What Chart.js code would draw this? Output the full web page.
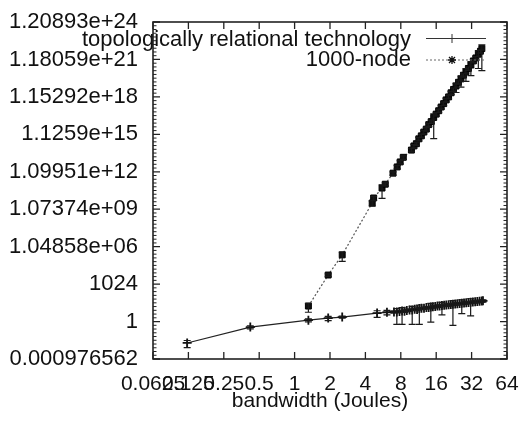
<!DOCTYPE html>
<html>
<head>
<meta charset="utf-8">
<script src="https://cdn.jsdelivr.net/npm/chart.js@4.4.0/dist/chart.umd.min.js"></script>
<style>
  html, body { margin: 0; padding: 0; background: #fff; }
</style>
</head>
<body>
<canvas id="myChart" width="529" height="427"></canvas>
<script>
// axis ticks (log2 axes, gnuplot style labels)
const xTicks = [0.0625, 0.125, 0.25, 0.5, 1, 2, 4, 8, 16, 32, 64];
const xTickLabels = ['0.0625', '0.125', '0.25', '0.5', '1', '2', '4', '8', '16', '32', '64'];
const yTicks = [2 ** -10, 2 ** 0, 2 ** 10, 2 ** 20, 2 ** 30, 2 ** 40, 2 ** 50, 2 ** 60, 2 ** 70, 2 ** 80];
const yTickLabels = ['0.000976562', '1', '1024', '1.04858e+06', '1.07374e+09', '1.09951e+12',
  '1.1259e+15', '1.15292e+18', '1.18059e+21', '1.20893e+24'];

const seriesNames = ['topologically relational technology', '1000-node'];

// topologically relational technology
const trtX = [0.122, 0.42, 1.31, 1.93, 2.54, 5.03, 6.1, 7.0, 7.4, 7.8, 8.2, 8.6, 9.0, 9.5, 10.0, 10.5,
  11.0, 11.5, 12.0, 12.6, 13.2, 13.8, 14.4, 15.0, 15.7, 16.4, 17.1, 17.9, 18.7, 19.5, 20.4, 21.3,
  22.2, 23.2, 24.2, 25.3, 26.4, 27.6, 28.8, 30.1, 31.4, 32.8, 34.3, 35.8, 37.4, 39.0, 40.0];
const trtY = [0.019, 0.36, 1.3, 1.9, 2.3, 4.8, 5.6, 6.0, 5.8, 6.5, 7.0, 6.8, 7.9, 8.4, 8.6, 9.8,
  9.5, 11.0, 11.5, 11.8, 13.2, 13.5, 14.8, 15.3, 15.9, 17.5, 17.8, 19.4, 20.0, 21.3, 22.1, 23.7,
  24.5, 26.0, 26.9, 28.6, 29.4, 31.2, 32.4, 34.2, 35.4, 37.5, 38.9, 41.0, 42.5, 44.9, 46.0];
const trtErr = [0.011, 0.1, 0.35, 0.7, 0.4, 2.6, 2.2, 1.2, 5.2, 1.5, 6.4, 1.4, 2.0, 1.8, 8.0, 2.1,
  2.0, 10.4, 2.5, 2.4, 3.0, 2.8, 13.9, 3.2, 3.5, 3.6, 3.9, 16.0, 4.2, 4.5, 4.6, 5.0,
  24.0, 5.4, 5.8, 6.0, 25.0, 6.5, 6.8, 7.2, 32.5, 7.9, 8.2, 8.6, 9.0, 9.4, 9.7];

// 1000-node
const nodeX = [1.31, 1.93, 2.54, 4.57, 4.7, 5.54, 5.9, 6.87, 7.45, 7.9, 8.4, 9.85, 10.34, 10.85,
  11.39, 11.96, 12.55, 13.18, 13.83, 14.52, 15.24, 16.0, 16.8, 17.63, 18.51, 19.43, 20.39, 21.41,
  22.47, 23.59, 24.76, 25.99, 27.28, 28.64, 30.06, 31.56, 33.13, 34.78, 36.5, 38.05, 39.12];
const nodeY = [17.6, 5500, 2.3e5, 3.4e9, 8.6e9, 5.4e10, 1.1e11, 8.5e11, 2.7e12, 6.8e12, 1.6e13,
  6.1e13, 1.31e14, 1.99e14, 4.9e14, 8.5e14, 1.71e15, 2.97e15, 6.8e15, 1.19e16, 2.55e16, 4.75e16,
  8.9e16, 1.77e17, 3.31e17, 6.6e17, 1.15e18, 2.47e18, 4.6e18, 8.6e18, 1.72e19, 3.2e19, 6.4e19,
  1.2e20, 2.24e20, 4.2e20, 8.95e20, 1.56e21, 3.12e21, 5.4e21, 8.8e21];
const nodeErr = [12, 1200, 1.6e5, 1.5e9, 3e9, 4.6e10, 3e10, 2.5e11, 8e11, 2e12, 5e12,
  1.8e13, 4e13, 6e13, 1.5e14, 2.5e14, 5e14, 9e14, 2e15, 3.5e15, 2.5e16, 1.4e16,
  2.7e16, 5.3e16, 1e17, 2e17, 3.5e17, 7.4e17, 1.4e18, 6e18, 5e18, 2.5e19, 1.9e19,
  1.0e20, 6.7e19, 3.6e20, 2.7e20, 4.7e20, 2.9e21, 1.6e21, 8.65e21];

const FONT = "'Liberation Sans', Arial, sans-serif";
const INK = '#111';

const toPoints = (xs, ys) => xs.map((x, i) => ({ x: x, y: ys[i] }));

const errorBars = {
  id: 'errorBars',
  afterDatasetsDraw(chart) {
    const { ctx, chartArea: a, scales: { x, y } } = chart;
    ctx.save();
    ctx.beginPath();
    ctx.rect(a.left, a.top, a.right - a.left, a.bottom - a.top);
    ctx.clip();
    ctx.strokeStyle = '#1a1a1a';
    ctx.lineWidth = 1.2;
    chart.data.datasets.forEach(ds => {
      ds.data.forEach((p, i) => {
        const e = ds.errors[i];
        const px = x.getPixelForValue(p.x);
        const lo = y.getPixelForValue(Math.max(p.y - e, y.min));
        const hi = y.getPixelForValue(p.y + e);
        ctx.beginPath();
        ctx.moveTo(px, lo); ctx.lineTo(px, hi);
        ctx.moveTo(px - 3.5, lo); ctx.lineTo(px + 3.5, lo);
        ctx.moveTo(px - 3.5, hi); ctx.lineTo(px + 3.5, hi);
        ctx.stroke();
      });
    });
    ctx.restore();
  }
};

// gnuplot-like frame with inward ticks on all four sides, plus legend and x label
const frame = {
  id: 'frame',
  afterDraw(chart) {
    const { ctx, chartArea: a, scales: { x, y } } = chart;
    ctx.save();
    ctx.strokeStyle = '#222';
    ctx.lineWidth = 1.6;
    ctx.strokeRect(a.left, a.top, a.right - a.left, a.bottom - a.top);
    ctx.lineWidth = 1.3;
    ctx.beginPath();
    xTicks.forEach(v => {
      const px = x.getPixelForValue(v);
      ctx.moveTo(px, a.bottom); ctx.lineTo(px, a.bottom - 7);
      ctx.moveTo(px, a.top); ctx.lineTo(px, a.top + 7);
    });
    yTicks.forEach(v => {
      const py = y.getPixelForValue(v);
      ctx.moveTo(a.left, py); ctx.lineTo(a.left + 7, py);
      ctx.moveTo(a.right, py); ctx.lineTo(a.right - 7, py);
    });
    ctx.stroke();
    // minor ticks, one per power of two
    ctx.lineWidth = 1;
    ctx.beginPath();
    for (let k = -10; k <= 80; k++) {
      if (k % 10 === 0) continue;
      const py = y.getPixelForValue(2 ** k);
      ctx.moveTo(a.left, py); ctx.lineTo(a.left + 3.5, py);
      ctx.moveTo(a.right, py); ctx.lineTo(a.right - 3.5, py);
    }
    ctx.stroke();

    // legend
    ctx.fillStyle = INK;
    ctx.font = '22px ' + FONT;
    ctx.textAlign = 'right';
    ctx.textBaseline = 'alphabetic';
    ctx.fillText(seriesNames[0], 411, 46);
    ctx.fillText(seriesNames[1], 411, 66);
    ctx.strokeStyle = '#333';
    ctx.lineWidth = 1;
    ctx.beginPath();
    ctx.moveTo(426, 38.5); ctx.lineTo(486, 38.5);
    ctx.moveTo(452, 34); ctx.lineTo(452, 43);
    ctx.moveTo(447.5, 38.5); ctx.lineTo(456.5, 38.5);
    ctx.stroke();
    ctx.setLineDash([2, 2]);
    ctx.strokeStyle = '#666';
    ctx.beginPath();
    ctx.moveTo(426, 60); ctx.lineTo(486, 60);
    ctx.stroke();
    ctx.setLineDash([]);
    ctx.strokeStyle = '#111';
    ctx.lineWidth = 1.3;
    ctx.beginPath();
    ctx.moveTo(452, 56); ctx.lineTo(452, 64);
    ctx.moveTo(448, 60); ctx.lineTo(456, 60);
    ctx.moveTo(449, 57); ctx.lineTo(455, 63);
    ctx.moveTo(455, 57); ctx.lineTo(449, 63);
    ctx.stroke();

    // x axis label
    ctx.font = '21px ' + FONT;
    ctx.textAlign = 'center';
    ctx.fillText('bandwidth (Joules)', 320, 407);
    ctx.restore();
  }
};

new Chart(document.getElementById('myChart'), {
  type: 'scatter',
  data: {
    datasets: [
      {
        label: seriesNames[0],
        data: toPoints(trtX, trtY),
        errors: trtErr,
        showLine: true,
        borderColor: '#222',
        borderWidth: 1.2,
        pointStyle: 'cross',
        pointRadius: 4.5,
        pointBorderWidth: 1.8,
        pointBorderColor: '#111'
      },
      {
        label: seriesNames[1],
        data: toPoints(nodeX, nodeY),
        errors: nodeErr,
        showLine: true,
        borderColor: '#555',
        borderWidth: 1.2,
        borderDash: [2, 2],
        pointStyle: 'rect',
        pointRadius: 4.2,
        pointBorderWidth: 1,
        pointBackgroundColor: '#111',
        pointBorderColor: '#000'
      }
    ]
  },
  options: {
    responsive: false,
    animation: false,
    layout: { padding: { top: 22, right: 22, left: 0, bottom: 0 } },
    plugins: { legend: { display: false }, tooltip: { enabled: false } },
    scales: {
      x: {
        type: 'logarithmic',
        min: xTicks[0],
        max: xTicks[xTicks.length - 1],
        afterBuildTicks: s => { s.ticks = xTicks.map(v => ({ value: v })); },
        afterFit: s => { s.height = 68; },
        grid: { display: false, drawTicks: false },
        border: { display: false },
        ticks: {
          autoSkip: false, maxRotation: 0, minRotation: 0, padding: 8,
          color: INK, font: { family: FONT, size: 21, lineHeight: 1.62 },
          callback: (v, i) => xTickLabels[i]
        }
      },
      y: {
        type: 'logarithmic',
        min: yTicks[0],
        max: yTicks[yTicks.length - 1],
        afterBuildTicks: s => { s.ticks = yTicks.map(v => ({ value: v })); },
        afterFit: s => { s.width = 153; },
        grid: { display: false, drawTicks: false },
        border: { display: false },
        ticks: {
          autoSkip: false, padding: 15,
          color: INK, font: { family: FONT, size: 22, lineHeight: 0.5 },
          callback: (v, i) => yTickLabels[i]
        }
      }
    }
  },
  plugins: [errorBars, frame]
});
</script>
</body>
</html>
